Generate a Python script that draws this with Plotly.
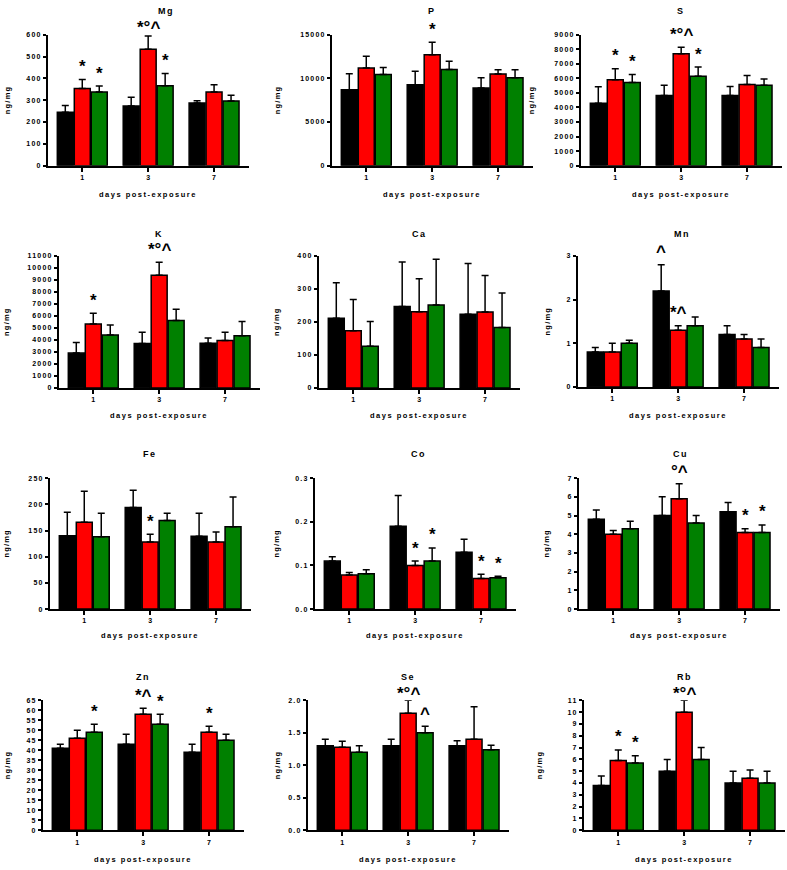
import plotly.graph_objects as go

# ---------------- data ----------------
days = ["1", "3", "7"]
series_names = ["control", "exposure A", "exposure B"]  # black, red, green
elements = ["Mg", "P", "S", "K", "Ca", "Mn", "Fe", "Co", "Cu", "Zn", "Se", "Rb"]

# means: [black, red, green] x [day1, day3, day7]; sd: upper error
mg_mean = [[245, 274, 287], [354, 534, 338], [338, 366, 296]]
mg_sd = [[31, 40, 10], [41, 60, 33], [27, 56, 27]]

p_mean = [[8700, 9280, 8900], [11200, 12700, 10500], [10450, 11020, 10080]]
p_sd = [[1830, 1550, 1180], [1340, 1430, 490], [800, 950, 910]]

s_mean = [[4300, 4830, 4830], [5900, 7700, 5580], [5720, 6150, 5530]]
s_sd = [[1130, 700, 620], [770, 440, 620], [540, 630, 420]]

k_mean = [[2900, 3700, 3730], [5330, 9400, 3950], [4400, 5610, 4340]]
k_sd = [[890, 940, 420], [890, 1080, 690], [850, 940, 1190]]

ca_mean = [[211, 247, 223], [173, 231, 230], [126, 251, 183]]
ca_sd = [[108, 135, 154], [95, 100, 111], [75, 139, 105]]

mn_mean = [[0.8, 2.2, 1.2], [0.8, 1.3, 1.1], [1.0, 1.4, 0.9]]
mn_sd = [[0.1, 0.6, 0.2], [0.2, 0.1, 0.1], [0.07, 0.2, 0.2]]

fe_mean = [[140, 194, 139], [166, 128, 128], [138, 169, 157]]
fe_sd = [[45, 33, 44], [59, 15, 19], [45, 14, 57]]

co_mean = [[0.11, 0.19, 0.13], [0.078, 0.10, 0.07], [0.081, 0.11, 0.072]]
co_sd = [[0.01, 0.07, 0.03], [0.006, 0.01, 0.01], [0.009, 0.03, 0.003]]

cu_mean = [[4.8, 5.0, 5.2], [4.0, 5.9, 4.1], [4.3, 4.6, 4.1]]
cu_sd = [[0.5, 1.0, 0.5], [0.2, 0.8, 0.2], [0.4, 0.4, 0.4]]

zn_mean = [[41, 43, 39], [46, 58, 49], [49, 53, 45]]
zn_sd = [[2, 5, 4], [4, 3, 3], [4, 5, 3]]

se_mean = [[1.3, 1.3, 1.3], [1.28, 1.8, 1.4], [1.2, 1.5, 1.24]]
se_sd = [[0.1, 0.1, 0.08], [0.09, 0.2, 0.5], [0.1, 0.1, 0.07]]

rb_mean = [[3.8, 5.0, 4.0], [5.9, 10.0, 4.4], [5.7, 6.0, 4.0]]
rb_sd = [[0.8, 1.0, 1.0], [0.9, 1.0, 0.7], [0.6, 1.0, 1.0]]

# y axis tick definitions (max, step, decimals)
y_max = [600, 15000, 9000, 11000, 400, 3, 250, 0.3, 7, 65, 2.0, 11]
y_step = [100, 5000, 1000, 1000, 100, 1, 50, 0.1, 1, 5, 0.5, 1]
y_dec = [0, 0, 0, 0, 0, 0, 0, 1, 0, 0, 1, 0]

# significance markers: (day index, series index, text)
mg_sig = [(0, 1, "*"), (0, 2, "*"), (1, 1, "*°^"), (1, 2, "*")]
p_sig = [(1, 1, "*")]
s_sig = [(0, 1, "*"), (0, 2, "*"), (1, 1, "*°^"), (1, 2, "*")]
k_sig = [(0, 1, "*"), (1, 1, "*°^")]
ca_sig = []
mn_sig = [(1, 0, "^"), (1, 1, "*^")]
fe_sig = [(1, 1, "*")]
co_sig = [(1, 1, "*"), (1, 2, "*"), (2, 1, "*"), (2, 2, "*")]
cu_sig = [(1, 1, "°^"), (2, 1, "*"), (2, 2, "*")]
zn_sig = [(0, 2, "*"), (1, 1, "*^"), (1, 2, "*"), (2, 1, "*")]
se_sig = [(1, 1, "*°^"), (1, 2, "^")]
rb_sig = [(0, 1, "*"), (0, 2, "*"), (1, 1, "*°^")]

panels = [
    (mg_mean, mg_sd, mg_sig), (p_mean, p_sd, p_sig), (s_mean, s_sd, s_sig),
    (k_mean, k_sd, k_sig), (ca_mean, ca_sd, ca_sig), (mn_mean, mn_sd, mn_sig),
    (fe_mean, fe_sd, fe_sig), (co_mean, co_sd, co_sig), (cu_mean, cu_sd, cu_sig),
    (zn_mean, zn_sd, zn_sig), (se_mean, se_sd, se_sig), (rb_mean, rb_sd, rb_sig),
]

# ---------------- layout / style ----------------
W, H = 787, 870
FONT = "Liberation Sans"
colors = ["#000000", "#ff0000", "#008000"]
BARGAP = 0.227
GROUPGAP = 0.06
X_RANGE = [-0.52, 2.53]
PLOT_W = 201

panel_left = [48, 332, 581, 59, 319, 578, 50, 315, 579, 43, 308, 584]
panel_top = [31, 31, 31, 254, 254, 254, 478, 478, 478, 702, 702, 702]
panel_bottom = [163, 163, 163, 387, 387, 386, 610, 610, 610, 833, 833, 833]
ylabel_x = [7, 277, 531, 7, 277, 547, 7, 277, 547, 7, 277, 539]
title_dx = [18, 0, 0, 0, 0, 4, 0, 3, 1, 0, 0, 0]
row_title_y = [7, 232, 454, 678]
row_xlabel_y = [192, 415, 637, 862]
MARK_ABOVE = 13      # px between error-bar top and marker centre
MARK_TOP_LIMIT = 7   # marker centre may rise at most this far above the axis top
MARK_BASE = 11.5     # natural offset of marker glyph centre above its anchor


def spaced(t, px):
    return '<span style="letter-spacing:%spx">%s</span>' % (px, t)


fig = go.Figure()
layout = dict(
    width=W, height=H, margin=dict(l=0, r=0, t=0, b=0),
    paper_bgcolor="white", plot_bgcolor="white",
    barmode="group", bargap=BARGAP, bargroupgap=GROUPGAP,
    showlegend=False, font=dict(family=FONT, color="black"),
)
annotations = []
slot = (1 - BARGAP) / 3
px_per_unit = PLOT_W / (X_RANGE[1] - X_RANGE[0])

for p, (means, sds, sigs) in enumerate(panels):
    ax = "" if p == 0 else str(p + 1)
    for s in range(3):
        fig.add_trace(go.Bar(
            x=[0, 1, 2], y=means[s], name=series_names[s],
            marker=dict(color=colors[s], line=dict(color="black", width=1.5)),
            error_y=dict(type="data", array=sds[s], arrayminus=[0, 0, 0],
                         symmetric=False, color="black", thickness=1.5, width=3.5),
            xaxis="x" + ax, yaxis="y" + ax, showlegend=False,
        ))
    x0 = panel_left[p] / W
    x1 = (panel_left[p] + PLOT_W) / W
    y0 = 1 - panel_bottom[p] / H
    y1 = 1 - panel_top[p] / H
    n = int(round(y_max[p] / y_step[p]))
    tv = [round(k * y_step[p], 6) for k in range(n + 1)]
    tt = [spaced("%.*f" % (y_dec[p], v), 1.2) for v in tv]
    tickfont = dict(size=7, family=FONT, color="black", weight="bold")
    layout["xaxis" + ax] = dict(
        domain=[x0, x1], range=X_RANGE, anchor="y" + ax,
        tickvals=[0, 1, 2], ticktext=days, showline=True, linecolor="black",
        linewidth=2, ticks="outside", ticklen=4, tickwidth=1.5, tickcolor="black",
        tickfont=tickfont, showgrid=False, zeroline=False, fixedrange=True,
        ticklabelstandoff=0,
    )
    layout["yaxis" + ax] = dict(
        domain=[y0, y1], range=[0, y_max[p]], anchor="x" + ax,
        tickvals=tv, ticktext=tt, showline=True, linecolor="black",
        linewidth=2, ticks="outside", ticklen=3, tickwidth=1.5, tickcolor="black",
        tickfont=tickfont, showgrid=False, zeroline=False, fixedrange=True,
    )
    row = p // 3
    centre_px = panel_left[p] + (1 - X_RANGE[0]) * px_per_unit
    # title
    annotations.append(dict(
        text=spaced(elements[p], 1.5), xref="paper", yref="paper",
        x=(centre_px + title_dx[p]) / W, y=1 - row_title_y[row] / H,
        xanchor="center", yanchor="middle", showarrow=False,
        font=dict(size=9, family=FONT, color="black", weight="bold"),
    ))
    # x label
    annotations.append(dict(
        text=spaced("days post-exposure", 1.5), xref="paper", yref="paper",
        x=centre_px / W, y=1 - row_xlabel_y[row] / H,
        xanchor="center", yanchor="middle", showarrow=False,
        font=dict(size=7.5, family=FONT, color="black", weight="bold"),
    ))
    # y label
    annotations.append(dict(
        text=spaced("ng/mg", 1.2), xref="paper", yref="paper", textangle=-90,
        x=ylabel_x[p] / W, y=1 - (panel_top[p] + panel_bottom[p]) / 2 / H,
        xanchor="center", yanchor="middle", showarrow=False,
        font=dict(size=7.5, family=FONT, color="black", weight="bold"),
    ))
    # significance markers
    plot_h = panel_bottom[p] - panel_top[p]
    for d, s, txt in sigs:
        top = means[s][d] + sds[s][d]
        gap_px = (y_max[p] - top) / y_max[p] * plot_h
        above = min(MARK_ABOVE, gap_px + MARK_TOP_LIMIT)
        annotations.append(dict(
            text=txt, xref="x" + ax, yref="y" + ax,
            x=d + (s - 1) * slot, y=top,
            xanchor="center", yanchor="bottom", yshift=above - MARK_BASE,
            showarrow=False,
            font=dict(size=17, family=FONT, color="black", weight="bold"),
        ))

layout["annotations"] = annotations
fig.update_layout(**layout)
fig.write_html("out.html", config={"displayModeBar": False},
               post_script="document.body.style.margin='0';")
